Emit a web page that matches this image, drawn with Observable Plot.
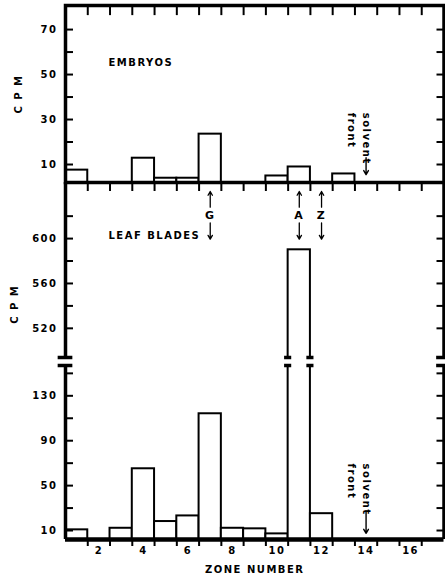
<!DOCTYPE html>
<html><head><meta charset="utf-8">
<script src="https://cdn.jsdelivr.net/npm/d3@7"></script>
<script src="https://cdn.jsdelivr.net/npm/@observablehq/plot@0.6"></script>
<style>
body{margin:0;background:#fff;}
#chart{position:relative;width:445px;height:579px;overflow:hidden;background:#fff;}
#chart svg{position:absolute;left:0;}
</style></head><body><div id="chart"></div>
<script>
// ---- data ----
const zones = [1,2,3,4,5,6,7,8,9,10,11,12,13,14,15,16,17];
const embryoCPM = [7.5,0,0,12.8,3.9,3.9,23.5,0,0,4.9,8.9,0,5.8,0,0,0,0];
const leafCPM   = [10.6,0,12,65,18,23,114,12,11.5,7,590,25,0,0,0,0,0];
const zoneBoundaries = [1.5,2.5,3.5,4.5,5.5,6.5,7.5,8.5,9.5,10.5,11.5,12.5,13.5,14.5,15.5,16.5];
const zoneLabels = [2,4,6,8,10,12,14,16];
const embryoTicks = [10,20,30,40,50,60,70];
const embryoLabels = [10,30,50,70];
const leafUpperTicks = [520,540,560,580,600,620];
const leafUpperLabels = [520,560,600];
const leafLowerTicks = [10,30,50,70,90,110,130,150];
const leafLowerLabels = [10,50,90,130];
const markers = [{zone:7,label:"G"},{zone:11,label:"A"},{zone:12,label:"Z"}];
const solventZone = 14;

// scale settings
const xDomain = [0.5, 17.5];
const embryoDomain = [2, 80.7];
const upperDomain = [494, 650];
const lowerDomain = [2, 157];

const common = {
  width: 445, marginLeft: 65, marginRight: 1.5,
  style: {fontFamily: "'DejaVu Sans', sans-serif", fontWeight: "bold", fontSize: "10px", color: "black", background: "transparent", letterSpacing: "1.5px", overflow: "visible"}
};

function rows(values) { return zones.map((z, i) => ({zone: z, cpm: values[i]})); }
function bars(values, base, clip) {
  return Plot.rectY(rows(values).filter(d => d.cpm > base), {
    x1: d => d.zone - 0.5, x2: d => d.zone + 0.5, y1: base, y2: "cpm",
    fill: "white", stroke: "black", strokeWidth: 2, clip
  });
}
function sideTicks(ticks) {
  return [
    Plot.axisY({ticks, tickSize: 8, dx: 8, fill: "none", strokeWidth: 2}),
    Plot.axisY({ticks, anchor: "right", tickSize: 8, dx: -8, fill: "none", strokeWidth: 2})
  ];
}
// zone-boundary ticks hanging down from the top of the frame (length in y units)
function topTicks(domain, len) {
  return Plot.ruleX(zoneBoundaries, {y1: domain[1], y2: domain[1] - len, strokeWidth: 2});
}
function capMarks(yVal) {
  const broken = rows(leafCPM).filter(d => d.cpm > lowerDomain[1]);
  const caps = [{x: xDomain[0], w: 0.33}, {x: xDomain[1], w: 0.33}];
  broken.forEach(d => { caps.push({x: d.zone - 0.5, w: 0.16}); caps.push({x: d.zone + 0.5, w: 0.16}); });
  return Plot.ruleY(caps, {y: yVal, x1: d => d.x - d.w, x2: d => d.x + d.w, strokeWidth: 3.5});
}

// ---- Embryos panel ----
const pA = Plot.plot({
  ...common, height: 185, marginTop: 5, marginBottom: 3,
  x: {domain: xDomain, axis: null},
  y: {domain: embryoDomain},
  marks: [
    bars(embryoCPM, embryoDomain[0], false),
    ...sideTicks(embryoTicks),
    Plot.axisY({ticks: embryoLabels, tickSize: 0, tickPadding: 8, label: "C P M", labelAnchor: "center", labelArrow: "none", labelOffset: 51}),
    topTicks(embryoDomain, 4.5),
    Plot.frame({strokeWidth: 3.5}),
    Plot.text(["EMBRYOS"], {x: 2.43, y: 55.3, textAnchor: "start", fontSize: 10}),
    Plot.text(["solvent"], {x: solventZone, y: 33, rotate: 90, textAnchor: "start", letterSpacing: 0.3}),
    Plot.text(["front"], {x: solventZone, y: 33, dx: -15, rotate: 90, textAnchor: "start", letterSpacing: 0.3}),
    Plot.arrow([solventZone], {x: d => d, y1: 13, y2: 5.5, strokeWidth: 1.4, headLength: 5})
  ]
});
pA.style.top = "0px";

// ---- Leaf blades, upper segment ----
const pB = Plot.plot({
  ...common, height: 181, marginTop: 3, marginBottom: 3,
  x: {domain: xDomain, axis: null},
  y: {domain: upperDomain},
  marks: [
    bars(leafCPM, 2, true),
    ...sideTicks(leafUpperTicks),
    Plot.axisY({ticks: leafUpperLabels, tickSize: 0, tickPadding: 8, label: null}),
    topTicks(upperDomain, 8),
    Plot.ruleX(xDomain, {strokeWidth: 3.5}),
    capMarks(upperDomain[0]),
    Plot.text(["C P M"], {frameAnchor: "left", y: 524, dx: -51, rotate: -90}),
    Plot.text(["LEAF BLADES"], {x: 2.43, y: 602.9, textAnchor: "start"}),
    Plot.arrow(markers, {x: "zone", y1: 628, y2: 642, strokeWidth: 1.3, headLength: 5}),
    Plot.text(markers, {x: "zone", y: 621, text: "label", fontSize: 11, letterSpacing: 0}),
    Plot.arrow(markers, {x: "zone", y1: 614, y2: 599.5, strokeWidth: 1.3, headLength: 5})
  ]
});
pB.style.top = "179px";

// ---- Leaf blades, lower segment ----
const pC = Plot.plot({
  ...common, height: 219, marginTop: 5, marginBottom: 40,
  x: {domain: xDomain},
  y: {domain: lowerDomain},
  marks: [
    bars(leafCPM, lowerDomain[0], true),
    ...sideTicks(leafLowerTicks),
    Plot.axisY({ticks: leafLowerLabels, tickSize: 0, tickPadding: 8, label: null}),
    Plot.axisX({ticks: zoneBoundaries, tickSize: 7, fill: "none", strokeWidth: 2}),
    Plot.axisX({ticks: zoneLabels, tickSize: 0, tickPadding: 7, label: "ZONE NUMBER", labelAnchor: "center", labelArrow: "none", labelOffset: 33}),
    Plot.ruleX(xDomain, {strokeWidth: 3.5}),
    Plot.ruleY([lowerDomain[0]], {strokeWidth: 4.5}),
    capMarks(lowerDomain[1]),
    Plot.text(["solvent"], {x: solventZone, y: 69.6, rotate: 90, textAnchor: "start", letterSpacing: 0.3}),
    Plot.text(["front"], {x: solventZone, y: 69.6, dx: -15, rotate: 90, textAnchor: "start", letterSpacing: 0.3}),
    Plot.arrow([solventZone], {x: d => d, y1: 27.5, y2: 7.5, strokeWidth: 1.4, headLength: 5})
  ]
});
pC.style.top = "360px";

document.getElementById("chart").append(pA, pB, pC);
</script>
</body></html>
